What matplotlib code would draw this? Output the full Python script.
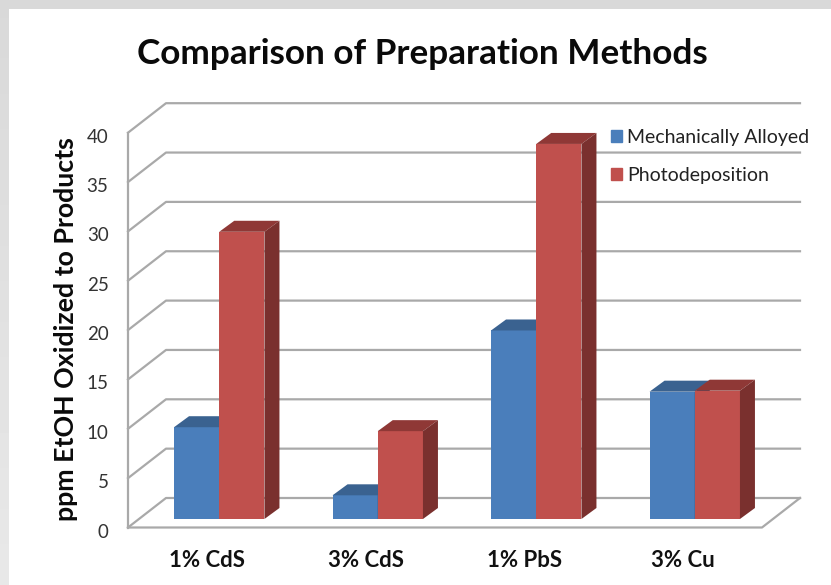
import matplotlib
matplotlib.use('Agg')
import matplotlib.pyplot as plt
import numpy as np
from matplotlib.patches import Polygon, Rectangle
from matplotlib.transforms import ScaledTranslation

# datos
categorias = ['1% CdS', '3% CdS', '1% PbS', '3% Cu']
mecanico = [9.3, 2.4, 19.1, 12.9]
fotodepo = [29.1, 8.9, 38.0, 13.0]
ticks_y = [0, 5, 10, 15, 20, 25, 30, 35, 40]

plt.rcParams['font.family'] = ['Lato', 'DejaVu Sans']

W, H = 831, 585
fig = plt.figure(figsize=(W / 100, H / 100), dpi=100, facecolor='white')

# marco gris de arriba y la izquierda
fondo = fig.add_axes([0, 0, 1, 1], zorder=0)
fondo.axis('off')
fondo.imshow(np.linspace(0.85, 0.91, 100).reshape(-1, 1), cmap='gray', vmin=0, vmax=1,
             extent=[0, 9, H, 0], aspect='auto')
fondo.add_patch(Rectangle((0, 0), W, 9, color='#d9d9d9', lw=0))
fondo.set_xlim(0, W)
fondo.set_ylim(H, 0)

# ejes sobre la pared frontal, en pixeles
x0, x1, y0, y1 = 128, 762, 527.5, 132.7
ax = fig.add_axes([x0 / W, 1 - y0 / H, (x1 - x0) / W, (y0 - y1) / H], zorder=1)
ax.patch.set_alpha(0)
ax.set_xlim(0, 4)
ax.set_ylim(0, 40)
px_x = 4 / (x1 - x0)
px_y = 40 / (y0 - y1)

gris = '#a9a9a9'
fx, fy = 38 * px_x, 29.5 * px_y  # profundidad de la pared
for t in ticks_y:
    ax.plot([0, fx, 4 + fx], [t, t + fy, t + fy], color=gris, lw=1.6, clip_on=False, zorder=1)
ax.plot([0, 4, 4 + fx], [0, 0, fy], color=gris, lw=1.6, clip_on=False, zorder=1)
ax.plot([0, 0], [0, 40], color=gris, lw=1.6, clip_on=False, zorder=1)

# profundidad de las barras
desp_x, base_y = 12 * px_x, 8.5 * px_y
bx, by = 15 * px_x, 11 * px_y
ancho = 45.2 * px_x
centros = np.arange(len(categorias)) + 0.5
pos = centros + desp_x


def barra(x, v, frente, arriba, lado, z):
    ax.bar(x, v, ancho, bottom=base_y, align='edge', color=frente, lw=0, zorder=z)
    tope = v + base_y
    ax.add_patch(Polygon([(x, tope), (x + bx, tope + by), (x + ancho + bx, tope + by),
                          (x + ancho, tope)], color=arriba, lw=0, zorder=z, clip_on=False))
    ax.add_patch(Polygon([(x + ancho, base_y), (x + ancho + bx, base_y + by),
                          (x + ancho + bx, tope + by), (x + ancho, tope)],
                         color=lado, lw=0, zorder=z, clip_on=False))


for i in range(len(categorias)):
    barra(pos[i] - ancho, mecanico[i], '#4a7ebb', '#3a6290', '#2f5076', 3)
    barra(pos[i], fotodepo[i], '#c0504d', '#8f3836', '#7a302e', 4)

ax.set_xticks(centros)
ax.set_xticklabels(categorias, fontsize=16, fontweight='bold', color='#111111')
ax.set_yticks(ticks_y)
ax.tick_params(axis='both', length=0)
ax.tick_params(axis='x', pad=16)
ax.tick_params(axis='y', pad=14, labelsize=13.5, labelcolor='#333333')
for etq in ax.get_yticklabels():
    etq.set_transform(etq.get_transform() + ScaledTranslation(0, -0.03, fig.dpi_scale_trans))
for s in ax.spines.values():
    s.set_visible(False)

ax.set_ylabel('ppm EtOH Oxidized to Products', fontsize=19.3, fontweight='bold', color='#0a0a0a')
ax.yaxis.set_label_coords((78 - x0) / (x1 - x0), (y0 - 329.5) / (y0 - y1))

fig.text(422.5 / W, 1 - 54 / H, 'Comparison of Preparation Methods', fontsize=25.3, fontweight='bold',
         color='#0a0a0a', ha='center', va='center')

# leyenda
cuad = [Rectangle((0, 0), 1, 1, color='#4a7ebb'), Rectangle((0, 0), 1, 1, color='#c0504d')]
ax.legend(cuad, ['Mechanically Alloyed', 'Photodeposition'], frameon=False, fontsize=14,
          loc='upper left', bbox_to_anchor=((603 - x0) / (x1 - x0), (y0 - 121) / (y0 - y1)),
          handlelength=0.57, handleheight=0.57, handletextpad=0.26, labelspacing=1.08,
          borderaxespad=0, labelcolor='#222222').set_zorder(6)

fig.savefig('out.png', dpi=100)
